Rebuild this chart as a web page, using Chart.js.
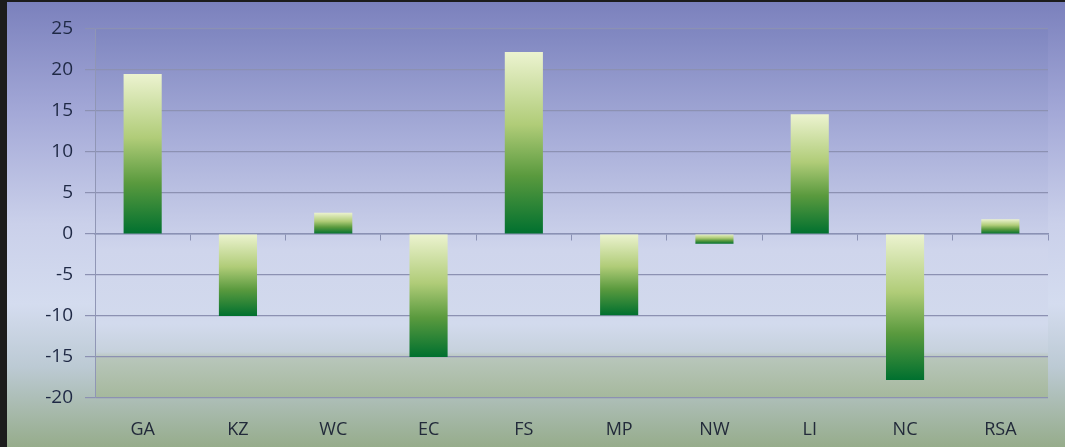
<!DOCTYPE html>
<html>
<head>
<meta charset="utf-8">
<script src="https://cdn.jsdelivr.net/npm/chart.js@4"></script>
<style>
  body { margin: 0; background: #fff; }
  #wrap { width: 1065px; height: 447px; position: relative; }
</style>
</head>
<body>
<div id="wrap"><canvas id="myChart" width="1065" height="447"></canvas></div>
<script>
// data
var regions = ["GA", "KZ", "WC", "EC", "FS", "MP", "NW", "LI", "NC", "RSA"];
var changes = [19.5, -10, 2.6, -15, 22.2, -9.9, -1.2, 14.6, -17.8, 1.8];
var yTicks = [25, 20, 15, 10, 5, 0, -5, -10, -15, -20];

// page background + frame
var bgPlugin = {
    id: 'bg',
    beforeDraw: function (chart) {
        var c = chart.ctx, a = chart.chartArea;
        var g = c.createLinearGradient(0, 0, 0, chart.height);
        g.addColorStop(0, '#7a80bc');
        g.addColorStop(0.25, '#a3a8d7');
        g.addColorStop(0.5, '#cad0ea');
        g.addColorStop(0.68, '#d4dcef');
        g.addColorStop(0.82, '#bccad4');
        g.addColorStop(1, '#96ac8b');
        c.save();
        c.fillStyle = g;
        c.fillRect(0, 0, chart.width, chart.height);
        // plot area, slightly different tone
        var p = c.createLinearGradient(0, a.top, 0, a.bottom);
        p.addColorStop(0, '#7f86c0');
        p.addColorStop(0.3, '#a8aed9');
        p.addColorStop(0.6, '#cfd5ec');
        p.addColorStop(0.8, '#d2daed');
        p.addColorStop(0.875, '#c6d1dc');
        p.addColorStop(0.89, '#b8c6bb');
        p.addColorStop(1, '#a5b89c');
        c.fillStyle = p;
        c.fillRect(a.left, a.top, a.right - a.left, a.bottom - a.top);
        // dark frame top / left
        c.fillStyle = '#1c1c1c';
        c.fillRect(0, 0, chart.width, 2);
        c.fillRect(0, 0, 7, chart.height);
        c.restore();
    }
};

function barFill(context) {
    var chart = context.chart;
    var a = chart.chartArea;
    if (!a) return '#3a9a40';
    var v = context.raw;
    var y = chart.scales.y;
    var p0 = y.getPixelForValue(0), p1 = y.getPixelForValue(v);
    var top = Math.min(p0, p1), bottom = Math.max(p0, p1);
    if (bottom - top < 1) bottom = top + 1;
    var g = chart.ctx.createLinearGradient(0, top, 0, bottom);
    g.addColorStop(0, '#ecf3d0');
    g.addColorStop(0.4, '#b0cc78');
    g.addColorStop(0.68, '#5a9a3e');
    g.addColorStop(1, '#00702f');
    return g;
}

var ctx = document.getElementById('myChart').getContext('2d');
var chart = new Chart(ctx, {
    type: 'bar',
    data: {
        labels: regions,
        datasets: [{
            data: changes,
            backgroundColor: barFill,
            borderWidth: 0,
            barPercentage: 0.4,
            categoryPercentage: 1.0
        }]
    },
    plugins: [bgPlugin],
    options: {
        responsive: false,
        animation: false,
        layout: { padding: { left: 0, top: 29, right: 17, bottom: 0 } },
        plugins: {
            legend: { display: false },
            tooltip: { enabled: false }
        },
        scales: {
            x: {
                position: 'bottom',
                grid: { display: false },
                border: { display: false },
                ticks: {
                    color: '#222a3a',
                    font: { family: 'Open Sans', size: 18 },
                    padding: 13
                },
                afterFit: function (scale) { scale.height = 49; }
            },
            x2: {
                type: 'category',
                labels: regions,
                position: { y: 0 },
                offset: true,
                grid: {
                    offset: true,
                    drawOnChartArea: false,
                    drawTicks: true,
                    tickLength: 6,
                    color: '#8a91b4'
                },
                border: { display: true, color: '#8a91b4', width: 1.5 },
                ticks: { display: false }
            },
            y: {
                min: -20,
                max: 25,
                afterBuildTicks: function (scale) {
                    scale.ticks = yTicks.map(function (v) { return { value: v }; });
                },
                grid: {
                    color: '#8c91b2',
                    lineWidth: 1.2,
                    tickLength: 10
                },
                border: { display: true, color: '#9096b5' },
                ticks: {
                    color: '#1f2945',
                    font: { family: 'Open Sans', size: 19 },
                    padding: 12
                },
                afterFit: function (scale) { scale.width = 95; }
            }
        }
    }
});
</script>
</body>
</html>
